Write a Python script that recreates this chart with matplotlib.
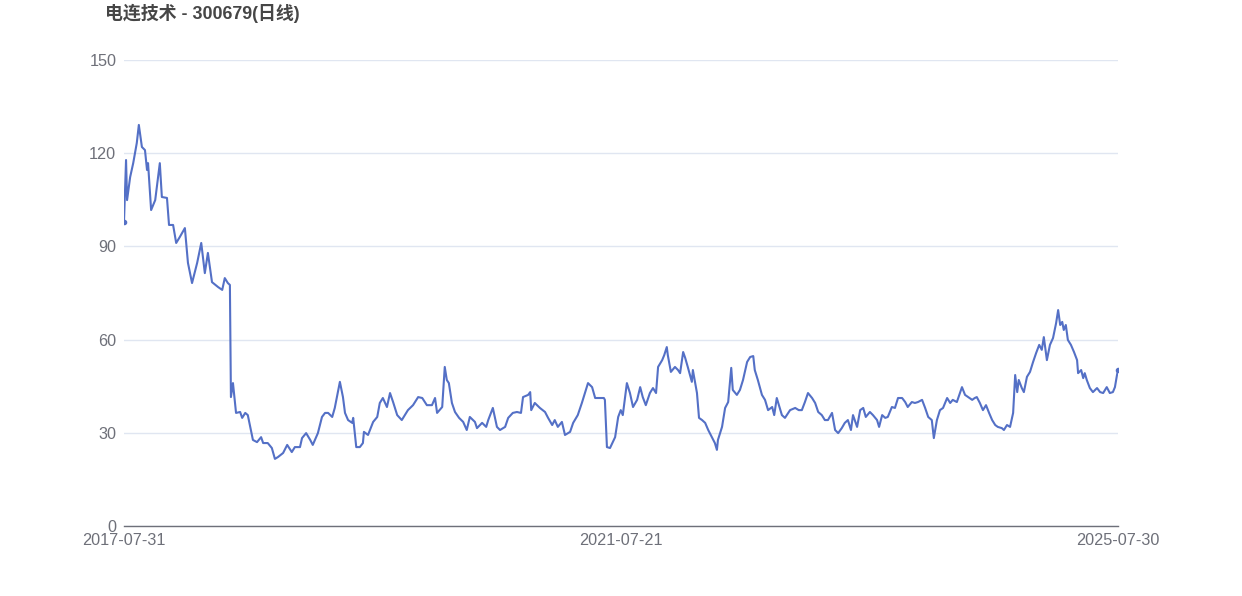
import matplotlib
matplotlib.use('Agg')
import matplotlib.pyplot as plt

# trading-day index (0 = 2017-07-31) and closing price
days = [0, 4, 6, 12, 18, 25, 29, 35, 41, 45, 47, 53, 61, 70, 74, 84, 88, 96, 102, 109,
        119, 125, 133, 143, 151, 158, 164, 172, 184, 192, 197, 203, 207, 209, 213, 219, 227, 231, 237, 242,
        252, 260, 268, 272, 281, 289, 295, 301, 311, 319, 328, 334, 344, 348, 356, 364, 369, 379, 387, 393,
        399, 407, 412, 422, 428, 432, 438, 446, 448, 454, 461, 467, 469, 477, 487, 495, 500, 506, 514, 520,
        526, 534, 543, 555, 565, 575, 583, 592, 602, 608, 612, 622, 627, 631, 635, 641, 647, 655, 663, 670,
        676, 686, 690, 700, 708, 712, 721, 729, 735, 745, 751, 760, 768, 776, 780, 790, 794, 796, 803, 813,
        823, 829, 837, 842, 848, 856, 862, 872, 878, 887, 895, 901, 907, 915, 921, 930, 938, 940, 944, 950,
        960, 966, 971, 975, 983, 989, 995, 1003, 1009, 1014, 1020, 1028, 1034, 1040, 1044, 1052, 1056, 1061, 1063, 1069,
        1077, 1083, 1087, 1093, 1097, 1102, 1110, 1112, 1120, 1124, 1130, 1136, 1142, 1149, 1155, 1159, 1161, 1169, 1175, 1181,
        1187, 1190, 1198, 1204, 1210, 1218, 1224, 1230, 1233, 1239, 1247, 1253, 1259, 1267, 1271, 1276, 1286, 1292, 1302, 1312,
        1319, 1325, 1331, 1337, 1345, 1351, 1357, 1364, 1370, 1376, 1384, 1390, 1396, 1403, 1409, 1415, 1421, 1425, 1433, 1439,
        1445, 1450, 1458, 1464, 1472, 1476, 1482, 1488, 1493, 1501, 1507, 1513, 1521, 1527, 1532, 1540, 1546, 1552, 1560, 1566,
        1572, 1579, 1583, 1589, 1595, 1601, 1609, 1615, 1620, 1628, 1634, 1638, 1644, 1650, 1658, 1663, 1667, 1673, 1679, 1685,
        1691, 1697, 1703, 1708, 1716, 1720, 1726, 1732, 1738, 1742, 1746, 1749, 1755, 1759, 1765, 1771, 1777, 1783, 1789, 1794,
        1798, 1804, 1810, 1816, 1822, 1826, 1830, 1834, 1837, 1841, 1845, 1851, 1857, 1863, 1865, 1871, 1875, 1878, 1882, 1888,
        1894, 1902, 1908, 1914, 1921, 1927, 1933, 1937, 1941, 1943]
prices = [97.9, 117.8, 104.9, 112.3, 116.8, 123.3, 129.1, 122.0, 121.0, 114.6, 116.8, 101.7, 104.9, 116.8, 105.9, 105.6, 96.9, 96.9, 91.1, 93.0,
          95.9, 84.7, 78.2, 84.7, 91.1, 81.4, 87.9, 78.5, 76.9, 76.0, 79.8, 78.2, 77.6, 41.5, 46.0, 36.4, 36.7, 34.8, 36.4, 35.7,
          27.7, 27.0, 28.6, 26.7, 26.7, 25.1, 21.6, 22.2, 23.5, 26.1, 23.8, 25.4, 25.4, 28.3, 29.9, 27.7, 26.1, 29.9, 35.1, 36.4,
          36.4, 35.1, 38.0, 46.4, 41.5, 36.4, 34.1, 33.2, 34.8, 25.4, 25.4, 26.7, 30.3, 29.3, 33.5, 35.1, 39.6, 41.2, 38.3, 42.8,
          39.9, 35.7, 34.1, 37.3, 38.9, 41.5, 41.2, 38.9, 38.9, 41.2, 36.4, 38.3, 51.2, 47.0, 46.0, 39.6, 36.7, 34.8, 33.5, 30.9,
          35.1, 33.5, 31.5, 33.2, 31.9, 34.1, 38.0, 31.9, 30.9, 31.9, 34.8, 36.4, 36.7, 36.4, 41.5, 42.2, 43.1, 37.3, 39.6, 38.0,
          36.7, 34.8, 32.5, 34.1, 31.9, 33.5, 29.3, 30.3, 33.2, 35.7, 39.6, 42.8, 46.0, 44.7, 41.2, 41.2, 41.2, 40.6, 25.4, 25.1,
          28.6, 35.1, 37.3, 35.7, 46.0, 42.8, 38.3, 40.6, 44.7, 41.5, 38.9, 42.8, 44.4, 42.8, 51.2, 53.4, 55.0, 57.6, 55.0, 49.6,
          51.2, 50.2, 49.2, 56.0, 54.1, 51.2, 46.4, 50.2, 42.8, 34.8, 34.1, 33.2, 30.9, 28.6, 26.7, 24.5, 27.7, 31.9, 38.0, 39.9,
          50.9, 43.8, 42.2, 43.8, 47.0, 52.8, 54.4, 54.7, 50.2, 47.0, 42.2, 40.6, 37.3, 38.3, 35.7, 41.2, 35.7, 34.8, 37.3, 38.0,
          37.3, 37.3, 39.9, 42.8, 41.2, 39.6, 36.7, 35.7, 34.1, 34.1, 36.4, 30.9, 29.9, 31.5, 33.2, 34.1, 30.9, 35.7, 31.9, 37.3,
          38.0, 35.1, 36.7, 35.7, 34.1, 31.9, 35.7, 34.8, 35.1, 38.3, 38.0, 41.2, 41.2, 39.9, 38.3, 39.9, 39.6, 39.9, 40.6, 38.0,
          35.1, 34.1, 28.3, 34.1, 37.3, 38.0, 41.2, 39.6, 40.6, 39.9, 42.8, 44.7, 42.2, 41.5, 40.6, 41.2, 41.5, 39.6, 37.3, 38.9,
          36.4, 34.1, 32.5, 31.9, 31.5, 30.9, 32.5, 31.9, 36.4, 48.6, 43.1, 47.0, 44.4, 43.1, 48.0, 49.6, 52.8, 55.7, 58.3, 56.7,
          60.8, 53.4, 58.3, 60.5, 65.3, 69.5, 64.7, 65.7, 63.1, 64.7, 59.9, 58.3, 56.0, 53.4, 49.2, 50.2, 47.6, 49.2, 47.0, 44.4,
          43.1, 44.4, 43.1, 42.8, 44.7, 42.8, 43.1, 44.7, 48.6, 50.2]

x_ticks = [0, 971, 1943]
x_labels = ['2017-07-31', '2021-07-21', '2025-07-30']
y_ticks = [0, 30, 60, 90, 120, 150]

title = '电连技术 - 300679(日线)'

plt.rcParams['font.family'] = ['Liberation Sans', 'Noto Sans CJK SC', 'DejaVu Sans']

fig = plt.figure(figsize=(12.42, 5.96), dpi=100)
ax = fig.add_axes([124 / 1242, 1 - 526 / 596, 994 / 1242, 466 / 596])

ax.plot(days, prices, color='#5470c6', linewidth=1.5, zorder=3)
ax.plot([days[0], days[-1]], [prices[0], prices[-1]], 'o', color='#5470c6', markersize=3, zorder=4)

ax.set_xlim(0, 1943)
ax.set_ylim(0, 150)
ax.set_yticks(y_ticks)
ax.set_xticks(x_ticks)
ax.set_xticklabels(x_labels)
ax.grid(axis='y', color='#e0e6f1', linewidth=1)
ax.set_axisbelow(True)

for side in ['top', 'right', 'left']:
    ax.spines[side].set_visible(False)
ax.spines['bottom'].set_color('#6e7079')
ax.spines['bottom'].set_linewidth(1)

ax.tick_params(axis='both', length=0, labelsize=11.7, labelcolor='#6e7079')
ax.tick_params(axis='y', pad=5.5)
ax.tick_params(axis='x', pad=5)

fig.text(105 / 1242, 1 - 13 / 596, title, fontsize=12.9, fontweight='bold',
         color='#464646', va='center', ha='left')

fig.savefig('out.png', dpi=100)
